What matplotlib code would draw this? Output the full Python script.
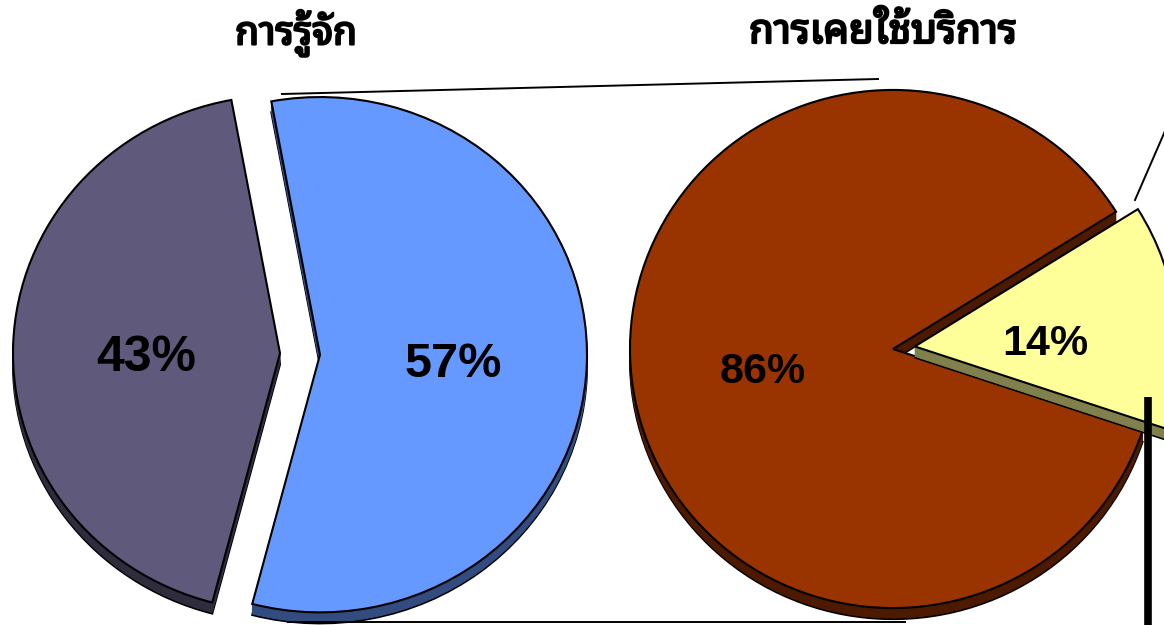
import matplotlib
matplotlib.use("Agg")
import matplotlib.pyplot as plt
import matplotlib.font_manager as fm
import matplotlib.patheffects as pe
from matplotlib.ft2font import FT2Font
from matplotlib.transforms import Affine2D

# ---------------- data ----------------
titles = ["การรู้จัก", "การเคยใช้บริการ"]
aware_values = [57, 43]            # blue, grey
aware_colors = ["#6699FF", "#5F5A7B"]
aware_sides = ["#334C80", "#2F2C3D"]
used_values = [86, 14]             # brown, yellow
used_colors = ["#993300", "#FFFF99"]
used_sides = ["#4D1A00", "#80804C"]

# ---------------- thai font detection ----------------
preferred = ["Noto Sans Thai Looped", "Garuda", "Loma", "Waree", "Tahoma",
             "Tlwg Typo", "Umpush", "Noto Serif Thai", "Kinnari", "Norasi",
             "Noto Sans Thai", "Noto Sans Thai UI", "Laksaman", "Sawasdee",
             "DejaVu Sans"]
thai_fonts = []
for fe in fm.fontManager.ttflist:
    try:
        cmap = FT2Font(fe.fname).get_charmap()
    except Exception:
        continue
    if all(c in cmap for c in (0x0E01, 0x0E23, 0x0E49, 0x0E39)):
        thai_fonts.append(fe.name)
thai_family = None
for p in preferred:
    if p in thai_fonts:
        thai_family = p
        break
if thai_family is None and thai_fonts:
    thai_family = thai_fonts[0]
title_family = [thai_family, "DejaVu Sans"] if thai_family else ["DejaVu Sans"]

W, H = 1164, 625
fig = plt.figure(figsize=(W / 100, H / 100), dpi=100)
ax = fig.add_axes([0, 0, 1, 1])


def draw_pie(values, colors, sides, explode, cx, cy, r, sy, start, depth,
             pct_sizes, label_dy, zbase):
    cyd = H - cy
    for k in range(depth, -1, -1):
        top = (k == 0)
        kwargs = {}
        if top:
            kwargs = dict(autopct="%.0f%%", pctdistance=0.5)
        res = ax.pie(values, explode=explode, startangle=start, counterclock=False,
                     center=(cx, cyd), radius=r,
                     colors=colors if top else sides, **kwargs)
        wedges = res[0]
        for i, w in enumerate(wedges):
            tr = Affine2D().translate(-cx, -cyd).scale(1, sy).translate(cx, cyd - k)
            w.set_transform(tr + ax.transData)
            w.set_zorder(zbase + i * 100 + (depth - k))
            if top or k == depth:
                w.set_edgecolor("black")
                w.set_linewidth(1.5)
            else:
                w.set_edgecolor(sides[i])
                w.set_linewidth(0.6)
        if top:
            for i, t in enumerate(res[2]):
                x, y = t.get_position()
                t.set_position((x, y - label_dy[i]))
                t.set_fontsize(pct_sizes[i])
                t.set_fontweight("bold")
                t.set_family(["Liberation Sans", "DejaVu Sans"])
                t.set_color("black")
                t.set_zorder(1000)


# left pie (awareness): explode in pixels
draw_pie(aware_values, aware_colors, aware_sides, [20, 20],
         300, 354, 267, 0.965, 100.5, 11, [35, 36], [5, 10], 0)
# right pie (usage)
draw_pie(used_values, used_colors, used_sides, [0, 22],
         893, 349, 263, 0.985, -18.4, 11, [31, 31], [7, 13], 0)

ax.set_xlim(0, W)
ax.set_ylim(0, H)
ax.set_aspect("auto")
ax.axis("off")

# connector lines
ax.plot([282, 878], [H - 94, H - 79], color="black", lw=1.4, zorder=900)
ax.plot([288, 905], [H - 622, H - 622], color="black", lw=1.4, zorder=900)
ax.plot([1135, 1172], [H - 200, H - 115], color="black", lw=1.4, zorder=900)
ax.plot([1148, 1148], [H - 397, -10], color="black", lw=5.5,
        solid_capstyle="butt", zorder=900)

# titles
bold_fx = [pe.withStroke(linewidth=1.6, foreground="black")]
ax.text(296, H - 33, titles[0], ha="center", va="center", fontsize=28,
        fontweight="bold", family=title_family, path_effects=bold_fx)
ax.text(883, H - 33, titles[1], ha="center", va="center", fontsize=29,
        fontweight="bold", family=title_family, path_effects=bold_fx)

fig.savefig("out.png", dpi=100)
